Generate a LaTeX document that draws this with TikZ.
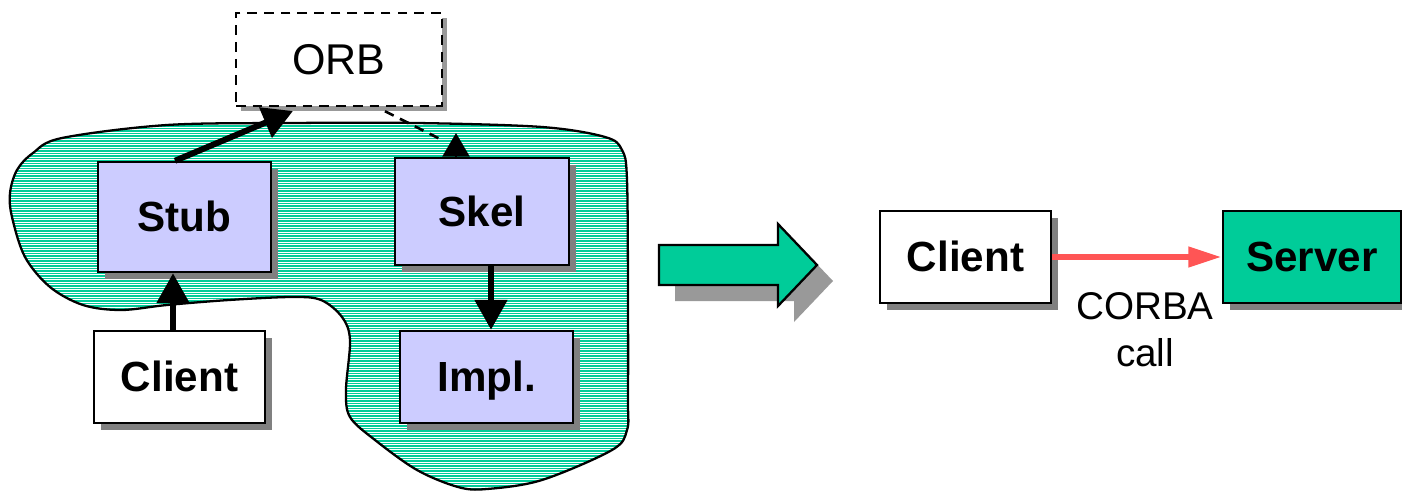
\documentclass[tikz,border=0pt]{standalone}
\usepackage{fontspec}
\setmainfont{Liberation Sans}
\usetikzlibrary{arrows.meta,shadows}
\newlength\pxu \setlength\pxu{0.02cm}
\definecolor{corbagreen}{RGB}{0,204,153}
\definecolor{stubblue}{RGB}{204,204,255}
\definecolor{callred}{RGB}{255,85,85}
\begin{document}
\begin{tikzpicture}[x=0.02cm,y=-0.02cm,
  lbl/.style={font=\fontsize{24}{28}\selectfont\bfseries, text height=17pt, text depth=0pt, inner sep=0pt},
  box/.style={draw=black, line width=1.4pt, lbl,
    drop shadow={shadow xshift=4pt, shadow yshift=-4pt, fill=black!50, opacity=1}},
  orbbox/.style={draw=black, line width=1.4pt, dash pattern=on 5.5pt off 4pt, fill=white,
    font=\fontsize{24.5}{28}\selectfont, text height=17pt, text depth=0pt, inner sep=0pt,
    drop shadow={shadow xshift=3pt, shadow yshift=-3pt, fill=black!40, opacity=1}},
  thickarrow/.style={line width=3.4pt, -{Triangle[length=17pt,width=18pt]}},
  dashline/.style={line width=1.5pt, dash pattern=on 5.5pt off 4pt},
  callarrow/.style={draw=callred, line width=3.6pt, -{Triangle[length=19pt,width=11pt]}},
  plain/.style={font=\fontsize{22}{26}\selectfont, inner sep=0pt}
]
\useasboundingbox (0,0) rectangle (1402,490);

% blob
\def\blobpath{plot[smooth cycle, tension=0.55] coordinates {
 (62,138) (167,125) (292,123) (417,123) (542,127) (605,137) (622,150) (627,180)
 (628,300) (628,400) (627,430) (612,450) (542,480) (487,489) (458,487) (417,470)
 (375,440) (350,417) (346,390) (350,340) (342,317) (321,300) (292,297) (229,300)
 (167,305) (121,310) (83,305) (50,287) (25,257) (12,217) (10,193) (17,170) (33,153)}}
\begin{scope}
  \clip \blobpath;
  \fill[white] (0,110) rectangle (640,495);
  \foreach \yy in {116,118.5,...,495} \draw[corbagreen, line width=0.72pt] (0,\yy) -- (640,\yy);
\end{scope}
\draw[line width=1.3pt] \blobpath;

% left boxes
\node[box, fill=stubblue, minimum width=173\pxu, minimum height=110\pxu] (stub) at (184.5,217) {Stub};
\node[box, fill=stubblue, minimum width=174\pxu, minimum height=107\pxu] (skel) at (482,211.5) {Skel};
\node[box, fill=white, minimum width=171\pxu, minimum height=92\pxu] (clientL) at (179.5,377) {Client};
\node[box, fill=stubblue, minimum width=173\pxu, minimum height=92\pxu] (impl) at (486.5,377) {Impl.};
\node[orbbox, minimum width=206\pxu, minimum height=93\pxu] (orb) at (339,59.5) {ORB};

% left connectors
\coordinate (c2s) at (173,0);
\coordinate (k2i) at (491,0);
\coordinate (s2o) at (175,0);
\coordinate (orbin) at (293,111);
\coordinate (dx) at (385,0);
\coordinate (dend) at (440,139);
\coordinate (skx) at (456,0);
\coordinate (sktip) at (456,133);
\draw[thickarrow] (clientL.north -| c2s) -- (stub.south -| c2s);
\draw[thickarrow] (skel.south -| k2i) -- (impl.north -| k2i);
\draw[thickarrow] (stub.north -| s2o) -- (orbin);
\draw[dashline] ([yshift=-4\pxu]orb.south -| dx) -- (dend);
\draw[line width=1pt, -{Triangle[length=13.5pt,width=15.5pt]}] (skel.north -| skx) -- (sktip);

% big arrow
\fill[black!40] (675,261) -- (794,261) -- (794,240) -- (833,281) -- (794,322) -- (794,301) -- (675,301) -- cycle;
\draw[fill=corbagreen, line width=1.3pt, line join=miter] (659,245) -- (778,245) -- (778,224) -- (817,265) -- (778,306) -- (778,285) -- (659,285) -- cycle;

% right side
\node[box, fill=white, minimum width=171\pxu, minimum height=92\pxu] (clientR) at (965.5,257) {Client};
\node[box, fill=corbagreen, minimum width=178\pxu, minimum height=92\pxu] (server) at (1312,257) {Server};
\draw[callarrow] (clientR.east) -- (server.west);
\node[plain, anchor=base] (corba) at (1145,319) {CORBA};
\node[plain, anchor=base] (call) at (1145,366) {call};
\end{tikzpicture}
\end{document}
